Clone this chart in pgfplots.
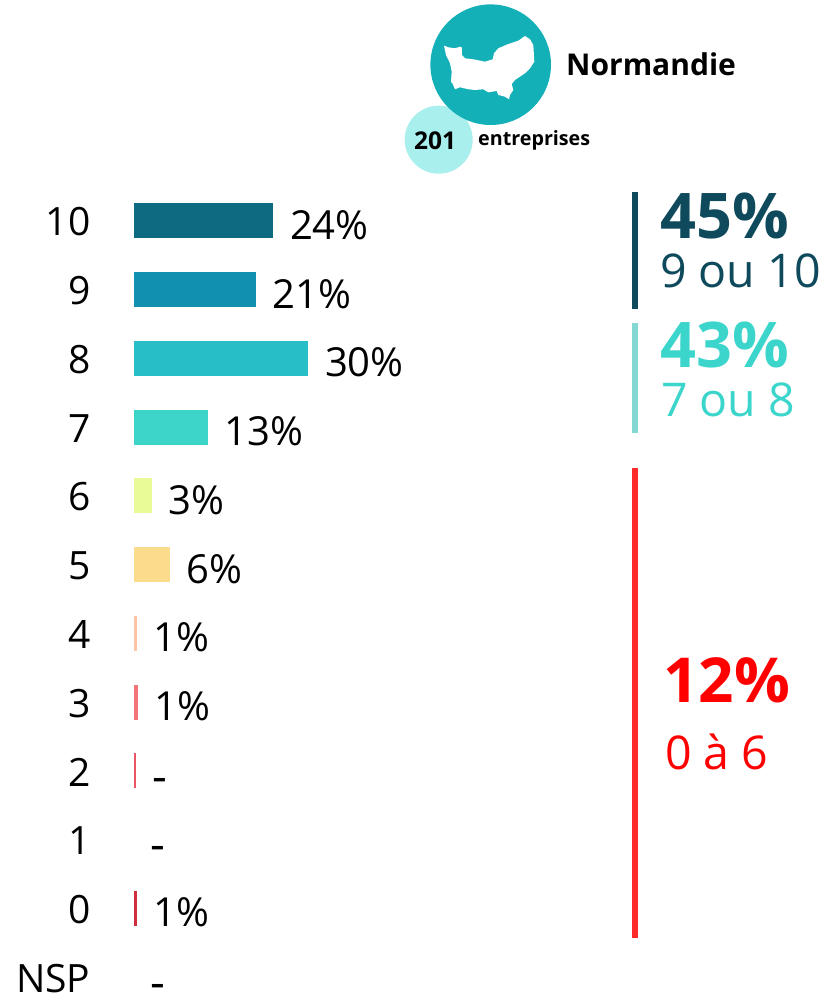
\documentclass[border=0pt]{standalone}
\usepackage{fontspec}
\setmainfont{Open Sans}
\usepackage{pgfplots}
\pgfplotsset{compat=1.18}
\definecolor{c10}{HTML}{0E6A80}
\definecolor{c9}{HTML}{1190AF}
\definecolor{c8}{HTML}{28BEC8}
\definecolor{c7}{HTML}{3DD5C9}
\definecolor{c6}{HTML}{E8FB96}
\definecolor{c5}{HTML}{FADC8C}
\definecolor{c4}{HTML}{FFC4A3}
\definecolor{c3}{HTML}{F27478}
\definecolor{c2}{HTML}{EB5565}
\definecolor{c0}{HTML}{CF2E3C}
\definecolor{bigc}{HTML}{14B0B8}
\definecolor{smallc}{HTML}{A8EFEE}
\definecolor{dark}{HTML}{0E4A5C}
\definecolor{teal2}{HTML}{3CD5CB}
\definecolor{tealline}{HTML}{84D8D4}
\definecolor{redline}{HTML}{FF2A2A}
\newcommand{\fs}[1]{\fontsize{#1}{#1}\selectfont}
\pgfplotsset{onebar/.style={xbar, bar width=35pt, bar shift=0pt, draw=none, fill=#1,
  nodes near coords style={font=\fs{40}, text=black, anchor=west, inner sep=0pt, xshift=16.5pt, yshift=-4pt}},
  dashbar/.style={nodes near coords style={font=\fs{46}, yshift=-10pt}}}
\begin{document}
\begin{tikzpicture}[x=1pt,y=1pt]
\path[use as bounding box] (0,0) rectangle (823,994);
\begin{axis}[
  at={(95pt,0pt)}, anchor=south west, scale only axis,
  width=728pt, height=994pt,
  xmin=-6.604, xmax=118.27,
  ymin=-3.2145, ymax=11.244, y dir=reverse,
  axis line style={draw=none},
  xtick=\empty,
  ytick={0,1,2,3,4,5,6,7,8,9,10,11},
  yticklabels={10,9,8,7,6,5,4,3,2,1,0,NSP},
  yticklabel style={font=\fs{39}, inner sep=0pt, xshift=-4.5pt, yshift=-1pt},
  major tick length=0pt,
  clip=false,
  tick style={draw=none}
]
\addplot[onebar=c10, nodes near coords={24\%}] coordinates {(24,0)};
\addplot[onebar=c9, nodes near coords={21\%}] coordinates {(21,1)};
\addplot[onebar=c8, nodes near coords={30\%}] coordinates {(30,2)};
\addplot[onebar=c7, nodes near coords={13\%}] coordinates {(12.7,3)};
\addplot[onebar=c6, nodes near coords={3\%}] coordinates {(3.2,4)};
\addplot[onebar=c5, nodes near coords={6\%}] coordinates {(6.3,5)};
\addplot[onebar=c4, nodes near coords={1\%}] coordinates {(0.6,6)};
\addplot[onebar=c3, nodes near coords={1\%}] coordinates {(0.75,7)};
\addplot[onebar=c2, dashbar, nodes near coords={-}] coordinates {(0.4,8)};
\addplot[onebar=white, dashbar, nodes near coords={-}] coordinates {(0,9)};
\addplot[onebar=c0, nodes near coords={1\%}] coordinates {(0.6,10)};
\addplot[onebar=white, dashbar, nodes near coords={-}] coordinates {(0,11)};
\end{axis}
\begin{scope}[yshift=994pt,y=-1pt]
\fill[smallc] (438.7,139.7) circle (34);
\fill[bigc] (490.7,64.7) circle (60.3);
\fill[white] plot coordinates {(444,45.7) (448.3,47.3) (455,48.3) (460,46.7) (461.7,47.3) (462,55) (465,58.3) (473.3,59.3) (485,61.7) (492.7,59.3) (494,53.3) (498.3,48.3) (508.3,44) (518.3,40.7) (525,36) (530,39.3) (533.3,45) (534.3,61.7) (530,68.3) (525,73.3) (515,80) (511.7,84) (513.3,90) (510,95) (509,99.3) (505,96.7) (498.3,95) (496.7,91) (488.3,92.3) (483.3,89.3) (475,90) (468.3,89.3) (460,87.3) (455,89.3) (452.7,84) (451,81.7) (451.7,71.7) (450,63.3) (446,55)} -- cycle;
\node[anchor=west,inner sep=0pt,font=\fs{30}\bfseries] at (566,64) {Normandie};
\node[inner sep=0pt,font=\fs{24.5}\bfseries] at (435,141) {201};
\node[anchor=west,inner sep=0pt,font=\fs{19.7}\bfseries] at (478,140) {entreprises};
\draw[dark,line width=6pt] (635,192) -- (635,309);
\draw[tealline,line width=6pt] (635,323) -- (635,433);
\draw[redline,line width=6pt] (635,468) -- (635,938);
\node[anchor=west,inner sep=0pt,font=\fs{63}\bfseries,text=dark] at (660,216) {45\%};
\node[anchor=west,inner sep=0pt,font=\fs{46.5},text=dark] at (660,271) {9 ou 10};
\node[anchor=west,inner sep=0pt,font=\fs{63}\bfseries,text=teal2] at (660,345) {43\%};
\node[anchor=west,inner sep=0pt,font=\fs{46.5},text=teal2] at (661,400) {7 ou 8};
\node[anchor=west,inner sep=0pt,font=\fs{62}\bfseries,text=red] at (663,680) {12\%};
\node[anchor=west,inner sep=0pt,font=\fs{46.5},text=red] at (665,752) {0 à 6};
\end{scope}
\end{tikzpicture}
\end{document}
